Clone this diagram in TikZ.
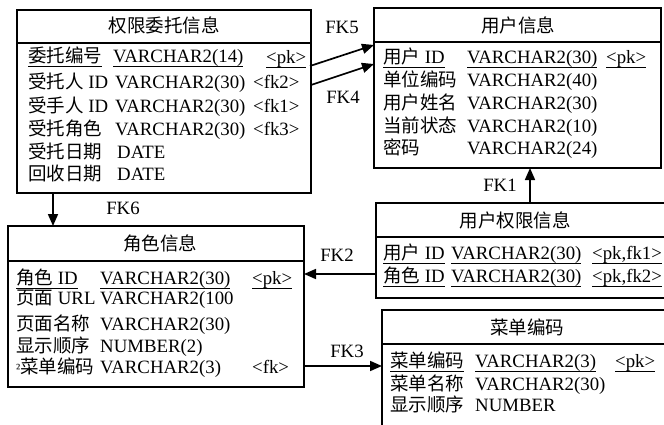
\documentclass[tikz,border=0pt]{standalone}
\usepackage{fontspec}
\setmainfont{Liberation Serif}
\newfontfamily\cjkf{Noto Sans CJK SC}
\newcommand\C[1]{{\fontsize{18.5}{22}\selectfont\cjkf #1}}
\newcommand\U[1]{\setbox0\hbox{#1}\rlap{\rule[-4.5pt]{\wd0}{1pt}}\box0}
\usetikzlibrary{arrows.meta}
\begin{document}
\begin{tikzpicture}[x=1pt,y=-1pt,
 tbl/.style={draw, line width=1.7pt},
 txt/.style={anchor=base west, inner sep=0pt, font=\fontsize{18.8}{22}\selectfont},
 hdr/.style={anchor=center, inner sep=0pt, font=\fontsize{18.8}{22}\selectfont},
 fk/.style={-{Triangle[length=12pt,width=10pt]}, line width=1.7pt},
 lbl/.style={anchor=center, inner sep=0pt, font=\fontsize{18.8}{22}\selectfont}]
\useasboundingbox (0,0) rectangle (664,425);
\clip (0,0) rectangle (664,425);
% ---- boxes
\draw[tbl] (17,10) rectangle (311,193); \draw[tbl] (17,43) -- (311,43);
\draw[tbl] (374,8) rectangle (661,168); \draw[tbl] (374,42) -- (661,42);
\draw[tbl] (8,226) rectangle (304,387); \draw[tbl] (8,261) -- (304,261);
\draw[tbl] (376,203) rectangle (680,298); \draw[tbl] (376,237) -- (680,237);
\draw[tbl] (382,310) rectangle (680,440); \draw[tbl] (382,344) -- (680,344);
% ---- headers
\node[hdr] (Ah) at (164,25) {\C{权限委托信息}};
\node[hdr] (Bh) at (518,25) {\C{用户信息}};
\node[hdr] (Ch) at (160,243) {\C{角色信息}};
\node[hdr] (Dh) at (515,220) {\C{用户权限信息}};
\node[hdr] (Eh) at (527,327) {\C{菜单编码}};
% ---- table A
\node[txt] (a1n) at (28,63) {\U{\C{委托编号}}};
\node[txt] (a1t) at (113,63) {\U{VARCHAR2(14)}};
\node[txt] (a1k) at (266,64) {\U{<pk>}};
\node[txt] (a2n) at (28,89) {\C{受托人} ID};
\node[txt] (a2t) at (115,89) {VARCHAR2(30)};
\node[txt] (a2k) at (253,89) {<fk2>};
\node[txt] (a3n) at (28,113) {\C{受手人} ID};
\node[txt] (a3t) at (115,113) {VARCHAR2(30)};
\node[txt] (a3k) at (253,113) {<fk1>};
\node[txt] (a4n) at (28,136) {\C{受托角色}};
\node[txt] (a4t) at (115,136) {VARCHAR2(30)};
\node[txt] (a4k) at (253,136) {<fk3>};
\node[txt] (a5n) at (28,158) {\C{受托日期}};
\node[txt] (a5t) at (117,158) {DATE};
\node[txt] (a6n) at (28,180) {\C{回收日期}};
\node[txt] (a6t) at (117,180) {DATE};
% ---- table B
\node[txt] (b1n) at (383,64) {\U{\C{用户} ID}};
\node[txt] (b1t) at (467,64) {\U{VARCHAR2(30)}};
\node[txt] (b1k) at (606,64) {\U{<pk>}};
\node[txt] (b2n) at (383,87) {\C{单位编码}};
\node[txt] (b2t) at (467,87) {VARCHAR2(40)};
\node[txt] (b3n) at (383,110) {\C{用户姓名}};
\node[txt] (b3t) at (467,110) {VARCHAR2(30)};
\node[txt] (b4n) at (383,132) {\C{当前状态}};
\node[txt] (b4t) at (467,132) {VARCHAR2(10)};
\node[txt] (b5n) at (383,154) {\C{密码}};
\node[txt] (b5t) at (467,154) {VARCHAR2(24)};
% ---- table C
\node[txt] (c1n) at (16,284) {\U{\C{角色} ID}};
\node[txt] (c1t) at (100,284) {\U{VARCHAR2(30)}};
\node[txt] (c1k) at (252,284) {\U{<pk>}};
\node[txt] (c2n) at (16,304) {\C{页面} URL};
\node[txt] (c2t) at (100,304) {VARCHAR2(100};
\node[txt] (c3n) at (16,330) {\C{页面名称}};
\node[txt] (c3t) at (100,330) {VARCHAR2(30)};
\node[txt] (c4n) at (16,352) {\C{显示顺序}};
\node[txt] (c4t) at (100,352) {NUMBER(2)};
\node[txt] (c5n) at (16,373) {{\fontsize{14}{14}\selectfont ²}\C{菜单编码}};
\node[txt] (c5t) at (100,373) {VARCHAR2(3)};
\node[txt] (c5k) at (252,373) {<fk>};
% ---- table D
\node[txt] (d1n) at (383,259) {\U{\C{用户} ID}};
\node[txt] (d1t) at (451,259) {\U{VARCHAR2(30)}};
\node[txt] (d1k) at (592,259) {\U{<pk,fk1>}};
\node[txt] (d2n) at (383,282) {\U{\C{角色} ID}};
\node[txt] (d2t) at (451,282) {\U{VARCHAR2(30)}};
\node[txt] (d2k) at (592,282) {\U{<pk,fk2>}};
% ---- table E
\node[txt] (e1n) at (390,367) {\U{\C{菜单编码}}};
\node[txt] (e1t) at (475,367) {\U{VARCHAR2(3)}};
\node[txt] (e1k) at (615,367) {\U{<pk>}};
\node[txt] (e2n) at (390,390) {\C{菜单名称}};
\node[txt] (e2t) at (475,390) {VARCHAR2(30)};
\node[txt] (e3n) at (390,411) {\C{显示顺序}};
\node[txt] (e3t) at (475,411) {NUMBER};
% ---- connector ends
\coordinate (fk5s) at (310,66);  \coordinate (fk5e) at (374,45);
\coordinate (fk4s) at (311,85);  \coordinate (fk4e) at (374,64);
\coordinate (fk1s) at (530,203); \coordinate (fk1e) at (530,168);
\coordinate (fk6s) at (53,193);  \coordinate (fk6e) at (53,226);
\coordinate (fk2s) at (376,274); \coordinate (fk2e) at (304,274);
\coordinate (fk3s) at (304,366); \coordinate (fk3e) at (382,366);
\draw[fk] (fk5s) -- (fk5e);
\draw[fk] (fk4s) -- (fk4e);
\draw[fk] (fk1s) -- (fk1e);
\draw[fk] (fk6s) -- (fk6e);
\draw[fk] (fk2s) -- (fk2e);
\draw[fk] (fk3s) -- (fk3e);
% ---- labels
\node[lbl] (l5) at (342,27) {FK5};
\node[lbl] (l4) at (343,97) {FK4};
\node[lbl] (l1) at (500,185) {FK1};
\node[lbl] (l6) at (123,208) {FK6};
\node[lbl] (l2) at (337,255) {FK2};
\node[lbl] (l3) at (347,351) {FK3};
\end{tikzpicture}
\end{document}
